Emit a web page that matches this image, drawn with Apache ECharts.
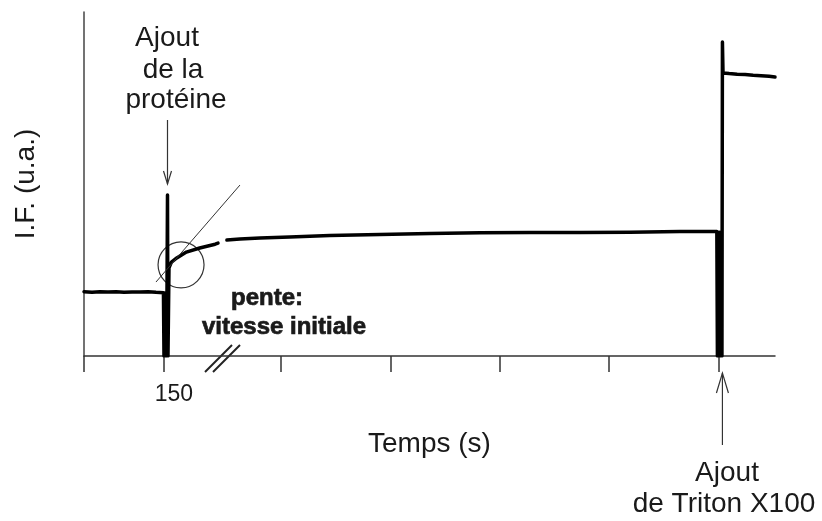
<!DOCTYPE html>
<html>
<head>
<meta charset="utf-8">
<script src="https://cdn.jsdelivr.net/npm/echarts@6/dist/echarts.min.js"></script>
<style>
  html, body { margin: 0; padding: 0; background: #fff; }
  #chart { width: 822px; height: 521px; }
</style>
</head>
<body>
<div id="chart"></div>
<script>
// Recorded fluorescence trace: time (s) and intensity (u.a.).
// A null entry leaves a gap in the trace.
const timeSec = [
  0, 15, 30, 45, 60, 75, 90, 105, 120, 135, 149,
  150, 151.5, 152.5, 154, 155, 156.6, 157.5, 159, 159.4,
  164, 174, 192, 217, 246, 251.3,
  null,
  268, 292.5, 330, 386, 461, 555, 649, 742.5, 836, 930, 1024, 1117.5, 1186.9,
  1188, 1189.5, 1191, 1192.5, 1194, 1195.5, 1196.5, 1197.4, 1198.5,
  1210, 1225, 1240, 1255, 1270, 1285, 1296
];
const intensity = [
  18.7, 18.5, 18.7, 18.6, 18.7, 18.5, 18.6, 18.6, 18.7, 18.5, 18.4,
  0, 18.3, 0, 17.9, 0, 46.8, 0, 0, 25.6,
  27.3, 28.5, 30.2, 31.4, 32.5, 32.8,
  null,
  33.7, 34.0, 34.3, 34.6, 35.0, 35.3, 35.6, 35.8, 35.9, 35.9, 36.0, 36.2, 36.2,
  0, 36.0, 0, 36.0, 0, 36.0, 0, 91.3, 82.3,
  82.1, 81.9, 81.8, 81.6, 81.5, 81.3, 81.1
];

// Axis ticks (only the injection time is labelled)
const xTickValues = [0, 150, 369, 576, 779, 984, 1191];
const xLabelValues = [150];
const xRange = [0, 1296];
const yRange = [0, 100];

// Tangent at the start of the rise (initial slope)
const tangentTime = [135, 292.5];
const tangentIntensity = [21.5, 49.7];
// Region circled around the start of the rise
const circleCenter = [182, 26.5];

const FONT = '"Liberation Sans", Arial, Helvetica, sans-serif';
const INK = '#1a1a1a';

const traceData = timeSec.map((t, i) => (t === null ? [null, null] : [t, intensity[i]]));

const chart = echarts.init(document.getElementById('chart'), null, { renderer: 'canvas' });

const option = {
  animation: false,
  backgroundColor: '#fff',
  grid: { left: 84, right: 47, top: 12, bottom: 165, containLabel: false },
  xAxis: {
    type: 'value',
    min: xRange[0],
    max: xRange[1],
    name: 'Temps (s)',
    nameLocation: 'middle',
    nameGap: 74,
    nameTextStyle: { fontFamily: FONT, fontSize: 28, color: INK },
    axisLine: { show: true, lineStyle: { color: '#333', width: 1.5 } },
    axisTick: {
      show: true,
      customValues: xTickValues,
      length: 16,
      lineStyle: { color: '#333', width: 1.5 }
    },
    axisLabel: {
      show: true,
      customValues: xLabelValues,
      fontFamily: FONT,
      fontSize: 23,
      color: INK,
      margin: 27,
      padding: [0, 0, 0, 20]
    },
    splitLine: { show: false }
  },
  yAxis: {
    type: 'value',
    min: yRange[0],
    max: yRange[1],
    name: 'I.F. (u.a.)',
    nameLocation: 'middle',
    nameRotate: 90,
    nameGap: 44,
    nameTextStyle: { fontFamily: FONT, fontSize: 28, color: INK },
    axisLine: { show: true, lineStyle: { color: '#444', width: 1.5 } },
    axisTick: { show: false },
    axisLabel: { show: false },
    splitLine: { show: false }
  },
  series: [
    {
      type: 'line',
      data: traceData,
      showSymbol: false,
      symbol: 'none',
      connectNulls: false,
      lineStyle: { color: '#000', width: 3.5, join: 'round', cap: 'round' },
      markLine: {
        silent: true,
        symbol: ['none', 'none'],
        label: { show: false },
        lineStyle: { color: '#333', width: 1, type: 'solid' },
        data: [[
          { coord: [tangentTime[0], tangentIntensity[0]] },
          { coord: [tangentTime[1], tangentIntensity[1]] }
        ]]
      }
    }
  ]
};

chart.setOption(option);

// Annotations: circle, arrows, axis break mark and captions
const c = chart.convertToPixel({ gridIndex: 0 }, circleCenter);
const injX = chart.convertToPixel({ gridIndex: 0 }, [156.6, 0])[0];
const tritonX = chart.convertToPixel({ gridIndex: 0 }, [1197.4, 0])[0];

const thin = { stroke: '#333', lineWidth: 1.2, fill: null };
const caption = (text, x, y, size, heavy) => ({
  type: 'text',
  style: Object.assign({
    text: text, x: x, y: y,
    fontFamily: FONT, fontSize: size, fontWeight: heavy ? 'bold' : 'normal',
    fill: INK, textAlign: 'center', textVerticalAlign: 'middle'
  }, heavy ? { stroke: INK, lineWidth: 0.7 } : {})
});

chart.setOption({
  graphic: [
    { type: 'circle', shape: { cx: c[0], cy: c[1], r: 23 }, style: thin },
    // arrow: protein addition
    { type: 'line', shape: { x1: injX, y1: 120, x2: injX, y2: 184 }, style: thin },
    { type: 'polyline', shape: { points: [[injX - 4, 171], [injX, 184], [injX + 4, 171]] }, style: thin },
    // arrow: Triton addition
    { type: 'line', shape: { x1: tritonX, y1: 445, x2: tritonX, y2: 373 }, style: thin },
    { type: 'polyline', shape: { points: [[tritonX - 6, 393], [tritonX, 373], [tritonX + 6, 393]] }, style: thin },
    // axis break mark
    { type: 'line', shape: { x1: 205, y1: 372, x2: 232, y2: 345 }, style: { stroke: '#222', lineWidth: 2 } },
    { type: 'line', shape: { x1: 213, y1: 372, x2: 240, y2: 345 }, style: { stroke: '#222', lineWidth: 2 } },
    // captions
    caption('Ajout', 167, 38, 28),
    caption('de la', 173, 70, 28),
    caption('protéine', 176, 100, 28),
    caption('pente:', 267, 298, 24, true),
    caption('vitesse initiale', 284, 327, 24, true),
    caption('Ajout', 727, 473, 28),
    caption('de Triton X100', 724, 504, 28)
  ]
});
</script>
</body>
</html>
